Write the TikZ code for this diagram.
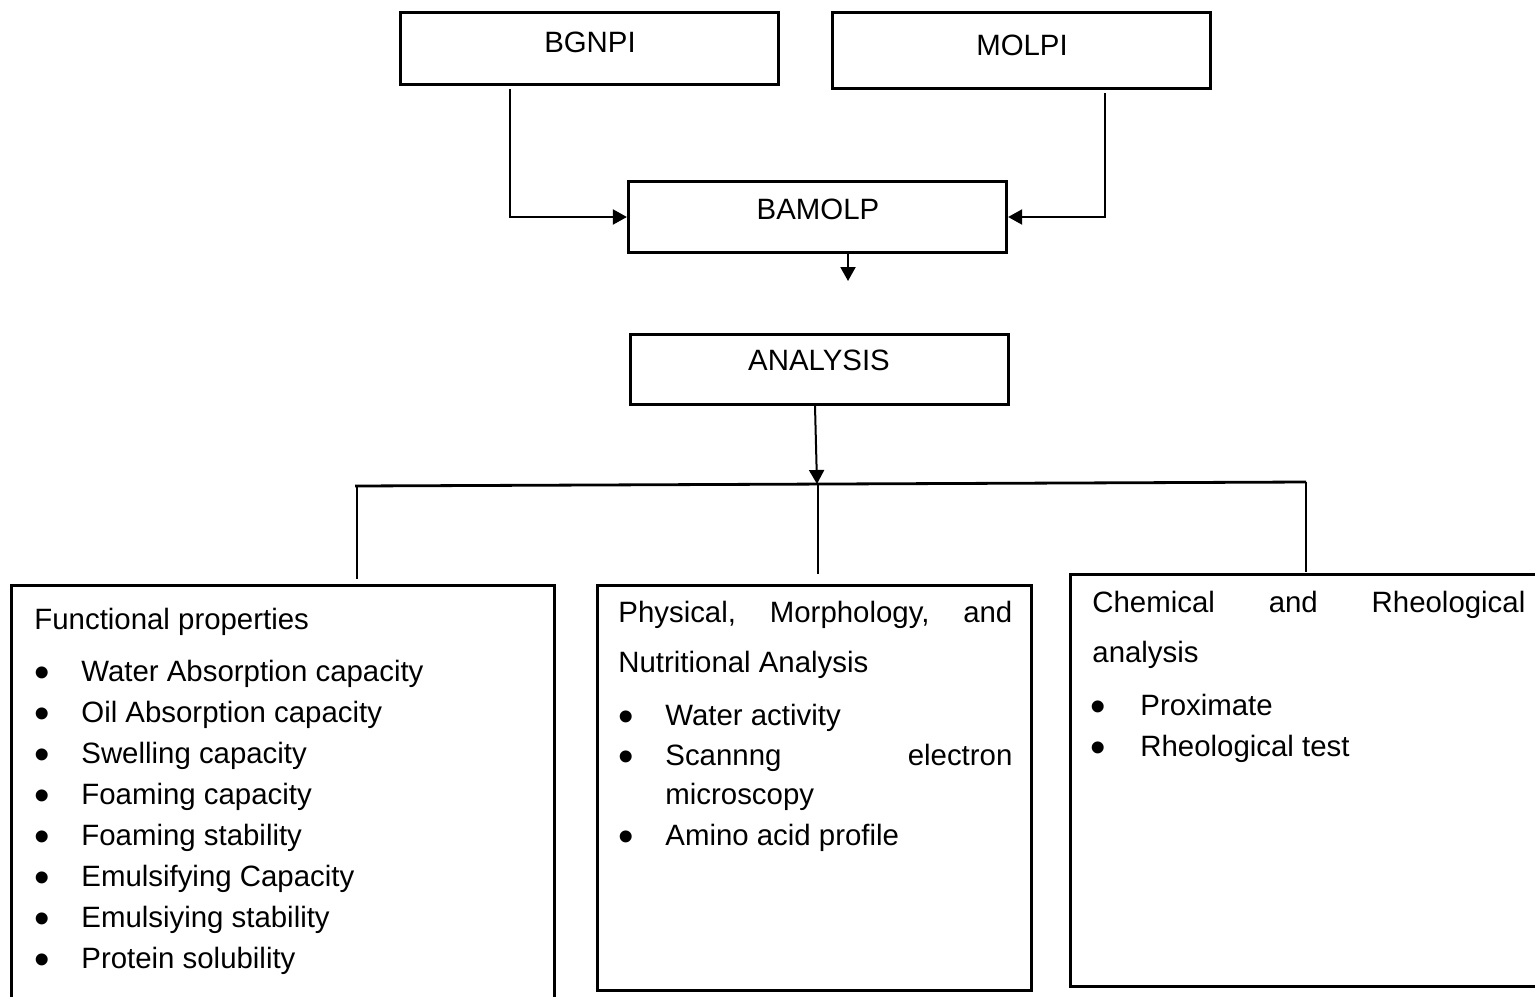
\documentclass[tikz,border=0pt]{standalone}
\usepackage{fontspec}
\setmainfont{Liberation Sans}
\usetikzlibrary{arrows.meta,calc}
\newcommand{\bigbul}{\raisebox{-3pt}{\fontsize{22}{22}\selectfont •}}
\begin{document}
\begin{tikzpicture}[x=0.5pt,y=-0.5pt,
  box/.style={draw, line width=1.6pt, inner sep=0pt, rectangle},
  txt/.style={inner sep=0pt, font=\fontsize{14.7}{20.5}\selectfont},
  bul/.style={inner sep=0pt},
  conn/.style={line width=1pt},
  arr/.style={conn, -{Triangle[length=7pt,width=7.5pt]}},
  bus/.style={line width=1.4pt}]
\useasboundingbox (0,0) rectangle (1535,996);
% boxes
\node[box, minimum width=189pt, minimum height=36pt] (bgnpi) at (589.5,48.5) {};
\node[box, minimum width=189pt, minimum height=38pt] (molpi) at (1021.5,50.5) {};
\node[box, minimum width=189pt, minimum height=35.5pt] (bamolp) at (817.5,217) {};
\node[box, minimum width=189pt, minimum height=35pt] (analysis) at (819.5,369.5) {};
\node[box, minimum width=271.5pt, minimum height=212.25pt] (func) at (283,797.75) {};
\node[box, minimum width=217pt, minimum height=202.5pt] (phys) at (814.5,788) {};
\node[box, minimum width=237.25pt, minimum height=206pt] (chem) at (1307.75,780.5) {};
% box titles
\node[txt, anchor=base] (tbg) at (590,52) {BGNPI};
\node[txt, anchor=base] (tmo) at (1022,55) {MOLPI};
\node[txt, anchor=base] (tba) at (818,219) {BAMOLP};
\node[txt, anchor=base] (tan) at (819,370) {ANALYSIS};
% connectors
\draw[arr] ($(bgnpi.south)+(-79.5,3)$) |- (bamolp.west);
\draw[arr] ($(molpi.south)+(83.5,3)$) |- (bamolp.east);
\coordinate (bend) at (848,281);
\draw[arr] ($(bamolp.south)+(30.5,0)$) -- (bend);
\coordinate (busL) at (355,486);
\coordinate (busR) at (1306,482);
\coordinate (busM) at (817,484);
\draw[bus] (busL) -- (busR);
\draw[arr] ($(analysis.south)+(-4.5,0)$) -- (busM);
\draw[conn] ($(busL)+(2,0)$) -- ($(func.north -| busL)+(2,-5)$);
\draw[conn] ($(busM)+(1,0)$) -- ($(phys.north -| busM)+(1,-10)$);
\draw[conn] (busR) -- ($(chem.north -| busR)+(0,-1)$);
% left box
\node[txt, anchor=base west] (f0) at (34,629) {Functional properties};
\foreach \t [count=\i] in {Water Absorption capacity, Oil Absorption capacity, Swelling capacity, Foaming capacity, Foaming stability, Emulsifying Capacity, Emulsiying stability, Protein solubility}{
  \node[bul, anchor=base] (fb\i) at (42,640+41*\i) {\bigbul};
  \node[txt, anchor=base west] (f\i) at (81,640+41*\i) {\t};
}
% middle box
\node[txt, anchor=base west] (p0) at (618,622) {\hbox to 197pt{Physical,\hfill Morphology,\hfill and}};
\node[txt, anchor=base west] (p1) at (618,672) {Nutritional Analysis};
\node[bul, anchor=base] (pb1) at (626,725) {\bigbul};
\node[txt, anchor=base west] (p2) at (665,725) {Water activity};
\node[bul, anchor=base] (pb2) at (626,765) {\bigbul};
\node[txt, anchor=base west] (p3) at (665,765) {\hbox to 173.5pt{Scannng\hfill electron}};
\node[txt, anchor=base west] (p4) at (665,804) {microscopy};
\node[bul, anchor=base] (pb3) at (626,845) {\bigbul};
\node[txt, anchor=base west] (p5) at (665,845) {Amino acid profile};
% right box
\node[txt, anchor=base west] (c0) at (1092,612) {\hbox to 216.5pt{Chemical\hfill and\hfill Rheological}};
\node[txt, anchor=base west] (c1) at (1092,662) {analysis};
\node[bul, anchor=base] (cb1) at (1098,715) {\bigbul};
\node[txt, anchor=base west] (c2) at (1140,715) {Proximate};
\node[bul, anchor=base] (cb2) at (1098,756) {\bigbul};
\node[txt, anchor=base west] (c3) at (1140,756) {Rheological test};
\end{tikzpicture}
\end{document}
